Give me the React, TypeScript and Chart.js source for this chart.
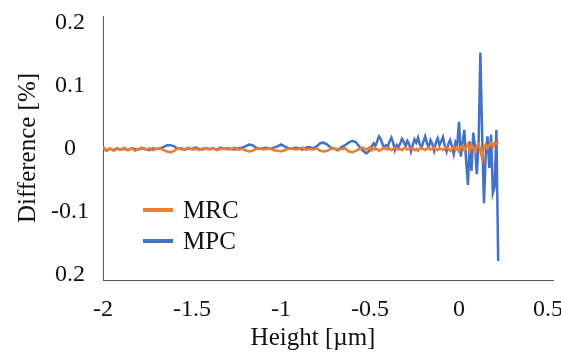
import { useEffect, useRef } from "react";
import { Chart, registerables } from "chart.js";

Chart.register(...registerables);

const heights = [
  -2.0, -1.98, -1.96, -1.94, -1.92, -1.9, -1.88, -1.86, -1.84, -1.82,
  -1.8, -1.78, -1.76, -1.74, -1.72, -1.7, -1.68, -1.66, -1.64, -1.62,
  -1.6, -1.58, -1.56, -1.54, -1.52, -1.5, -1.48, -1.46, -1.44, -1.42,
  -1.4, -1.38, -1.36, -1.34, -1.32, -1.3, -1.28, -1.26, -1.24, -1.22,
  -1.2, -1.18, -1.16, -1.14, -1.12, -1.1, -1.08, -1.06, -1.04, -1.02,
  -1.0, -0.98, -0.96, -0.94, -0.92, -0.9, -0.88, -0.86, -0.84, -0.82,
  -0.8, -0.78, -0.76, -0.74, -0.72, -0.7, -0.68, -0.66, -0.64, -0.62,
  -0.6, -0.58, -0.56, -0.54, -0.52, -0.5,
  -0.49, -0.48, -0.47, -0.46, -0.45, -0.44, -0.43, -0.42, -0.41, -0.4,
  -0.39, -0.38, -0.37, -0.36, -0.35, -0.34, -0.33, -0.32, -0.31, -0.3,
  -0.29, -0.28, -0.27, -0.26, -0.25, -0.24, -0.23, -0.22, -0.21, -0.2,
  -0.19, -0.18, -0.17, -0.16, -0.15, -0.14, -0.13, -0.12, -0.11, -0.1,
  -0.09, -0.08, -0.07, -0.06, -0.05, -0.04, -0.03, -0.02, -0.01, 0.0,
  0.01, 0.02, 0.03, 0.04, 0.05, 0.06, 0.07, 0.08, 0.09, 0.1,
  0.11, 0.12, 0.13, 0.14, 0.15, 0.16, 0.17, 0.18, 0.19, 0.2,
  0.21, 0.22,
];

const mrcValues = [
  0.003, -0.002, 0.001, -0.003, 0.0, -0.001, 0.002, -0.002, 0.001, -0.003,
  0.0, 0.002, -0.001, 0.001, -0.002, 0.0, 0.001, -0.002, -0.004, -0.005,
  -0.003, 0.001, -0.001, 0.0, 0.002, -0.001, 0.0, -0.002, 0.001, 0.0,
  -0.001, 0.001, -0.002, 0.0, 0.001, -0.001, 0.0, 0.002, -0.001, 0.0,
  -0.002, -0.004, -0.003, 0.0, 0.001, -0.001, 0.0, 0.001, -0.002, -0.003,
  -0.004, -0.002, 0.0, 0.001, -0.001, 0.0, 0.002, -0.001, 0.0, -0.001,
  0.001, -0.003, -0.004, -0.003, 0.0, 0.001, -0.001, 0.0, 0.001, -0.004,
  -0.005, -0.003, 0.0, 0.002, -0.001, 0.003,
  -0.002, 0.001, -0.001, 0.0, -0.003, -0.002, 0.001, 0.002, 0.0, -0.001,
  0.001, -0.002, 0.0, 0.002, 0.001, -0.001, 0.0, -0.002, 0.001, 0.002,
  -0.001, 0.0, 0.002, 0.001, -0.002, 0.0, -0.003, 0.001, 0.002, 0.0,
  -0.002, 0.001, 0.002, -0.001, 0.0, 0.003, -0.001, -0.002, 0.001, 0.0,
  -0.002, 0.001, 0.003, 0.0, -0.003, 0.001, 0.004, -0.002, 0.002, -0.004,
  0.003, 0.005, -0.002, 0.004, 0.008, -0.003, 0.006, 0.002, -0.006, 0.005,
  0.008, -0.002, -0.015, 0.004, 0.007, 0.001, 0.006, 0.009, 0.003, 0.01,
  0.008, 0.012,
];

const mpcValues = [
  0.001, -0.003, 0.0, -0.002, 0.001, -0.001, 0.0, -0.002, 0.001, 0.0,
  -0.001, 0.001, 0.0, -0.002, 0.001, 0.0, 0.001, 0.003, 0.006, 0.006,
  0.004, 0.0, 0.001, -0.001, 0.001, 0.0, 0.002, 0.0, -0.001, 0.001,
  0.0, 0.001, -0.001, 0.002, 0.0, 0.001, 0.0, -0.001, 0.001, 0.002,
  0.004, 0.007, 0.006, 0.002, 0.0, 0.001, 0.002, 0.0, 0.002, 0.004,
  0.007, 0.004, 0.001, 0.0, 0.002, 0.001, -0.001, 0.002, 0.003, 0.001,
  0.004, 0.009, 0.01, 0.007, 0.002, 0.0, -0.002, 0.003, 0.006, 0.01,
  0.013, 0.011, 0.004, -0.003, -0.007, -0.002,
  0.004, 0.009, 0.005, 0.012, 0.02, 0.016, 0.008, 0.002, 0.006, 0.004,
  0.012, 0.018, 0.01, -0.002, 0.006, 0.003, 0.009, 0.016, 0.011, 0.004,
  0.013, 0.008, -0.004, 0.006, 0.015, 0.01, 0.018, 0.007, 0.002, 0.012,
  0.02, 0.009, 0.003, 0.014, 0.008, -0.003, 0.01, 0.017, 0.006, 0.012,
  0.019, 0.005, -0.004, 0.008, 0.014, 0.004, -0.008, 0.011, 0.006, 0.043,
  -0.012, 0.01, 0.03, -0.02, -0.057, 0.012, -0.035, 0.026, 0.003, -0.04,
  0.008, 0.153, 0.02, -0.086, -0.01, 0.02, -0.03, 0.023, -0.07, -0.06,
  0.03, -0.178,
];

const seriesNames = ["MRC", "MPC"];
const seriesColors = ["#ED7D31", "#4472C4"];
const xTicks = [-2, -1.5, -1, -0.5, 0, 0.5];
const xTickLabels = ["-2", "-1.5", "-1", "-0.5", "0", "0.5"];
const yTicks = [0.2, 0.1, 0, -0.1, -0.2];
const yTickLabels = ["0.2", "0.1", "0", "-0.1", "0.2"];
const xTitle = "Height [µm]";
const yTitle = "Difference [%]";

const FONT = '"Liberation Serif", "Times New Roman", serif';
const TEXT = "#111111";
const AXIS = "#595959";

const insetLegend = {
  id: "insetLegend",
  afterDraw(chart: any) {
    const ctx = chart.ctx;
    ctx.save();
    ctx.font = `25px ${FONT}`;
    ctx.fillStyle = TEXT;
    ctx.textBaseline = "middle";
    chart.data.datasets.forEach((ds: any, i: number) => {
      const y = 210 + i * 31;
      ctx.strokeStyle = ds.borderColor;
      ctx.lineWidth = 4;
      ctx.beginPath();
      ctx.moveTo(143, y);
      ctx.lineTo(173, y);
      ctx.stroke();
      ctx.textAlign = "left";
      ctx.fillText(ds.label, 183, y + 1);
    });
    ctx.textAlign = "center";
    ctx.fillText(xTitle, 313, 338);
    ctx.restore();
  },
};

const zeroPad = (s: any) => {
  s.paddingLeft = 0;
  s.paddingRight = 0;
  s.paddingTop = 0;
  s.paddingBottom = 0;
};

export default function App() {
  const ref = useRef<HTMLCanvasElement>(null);
  useEffect(() => {
    if (!ref.current) return;
    const mk = (vals: number[]) => heights.map((x, i) => ({ x, y: vals[i] }));
    const chart = new Chart(ref.current, {
      type: "line",
      data: {
        datasets: [
          {
            label: seriesNames[0],
            data: mk(mrcValues),
            borderColor: seriesColors[0],
            backgroundColor: seriesColors[0],
            borderWidth: 2.5,
            pointRadius: 0,
            tension: 0,
          },
          {
            label: seriesNames[1],
            data: mk(mpcValues),
            borderColor: seriesColors[1],
            backgroundColor: seriesColors[1],
            borderWidth: 2.5,
            pointRadius: 0,
            tension: 0,
          },
        ],
      },
      options: {
        animation: false,
        responsive: false,
        layout: { padding: { top: 16, right: 8, left: 0, bottom: 0 } },
        plugins: { legend: { display: false }, tooltip: { enabled: false } },
        scales: {
          x: {
            type: "linear",
            min: -2,
            max: 0.528,
            grid: { display: false, drawTicks: false },
            border: { display: true, color: AXIS, width: 1 },
            afterBuildTicks: (s: any) => {
              s.ticks = xTicks.map((v) => ({ value: v }));
            },
            afterFit: (s: any) => {
              s.height = 73;
              zeroPad(s);
            },
            ticks: {
              autoSkip: false,
              maxRotation: 0,
              padding: 15,
              color: TEXT,
              font: { family: FONT, size: 24 },
              callback: (v: any) => {
                const i = xTicks.indexOf(Number(v));
                return i >= 0 ? xTickLabels[i] : "";
              },
            },
          },
          y: {
            type: "linear",
            min: -0.208,
            max: 0.211,
            grid: { display: false, drawTicks: false },
            border: { display: true, color: AXIS, width: 1 },
            afterBuildTicks: (s: any) => {
              s.ticks = yTicks.map((v) => ({ value: v }));
            },
            afterFit: (s: any) => {
              s.width = 103;
              zeroPad(s);
            },
            title: {
              display: true,
              text: yTitle,
              color: TEXT,
              font: { family: FONT, size: 25 },
              padding: { top: 13, bottom: 0 },
            },
            ticks: {
              autoSkip: false,
              crossAlign: "center",
              padding: 14,
              color: TEXT,
              font: { family: FONT, size: 24 },
              callback: (v: any) => {
                const i = yTicks.indexOf(Number(v));
                return i >= 0 ? yTickLabels[i] : "";
              },
            },
          },
        },
      },
      plugins: [insetLegend],
    } as any);
    return () => chart.destroy();
  }, []);
  return (
    <div style={{ position: "absolute", left: 0, top: 0, width: 561, height: 353, background: "#fff" }}>
      <canvas ref={ref} width={561} height={353} />
    </div>
  );
}
